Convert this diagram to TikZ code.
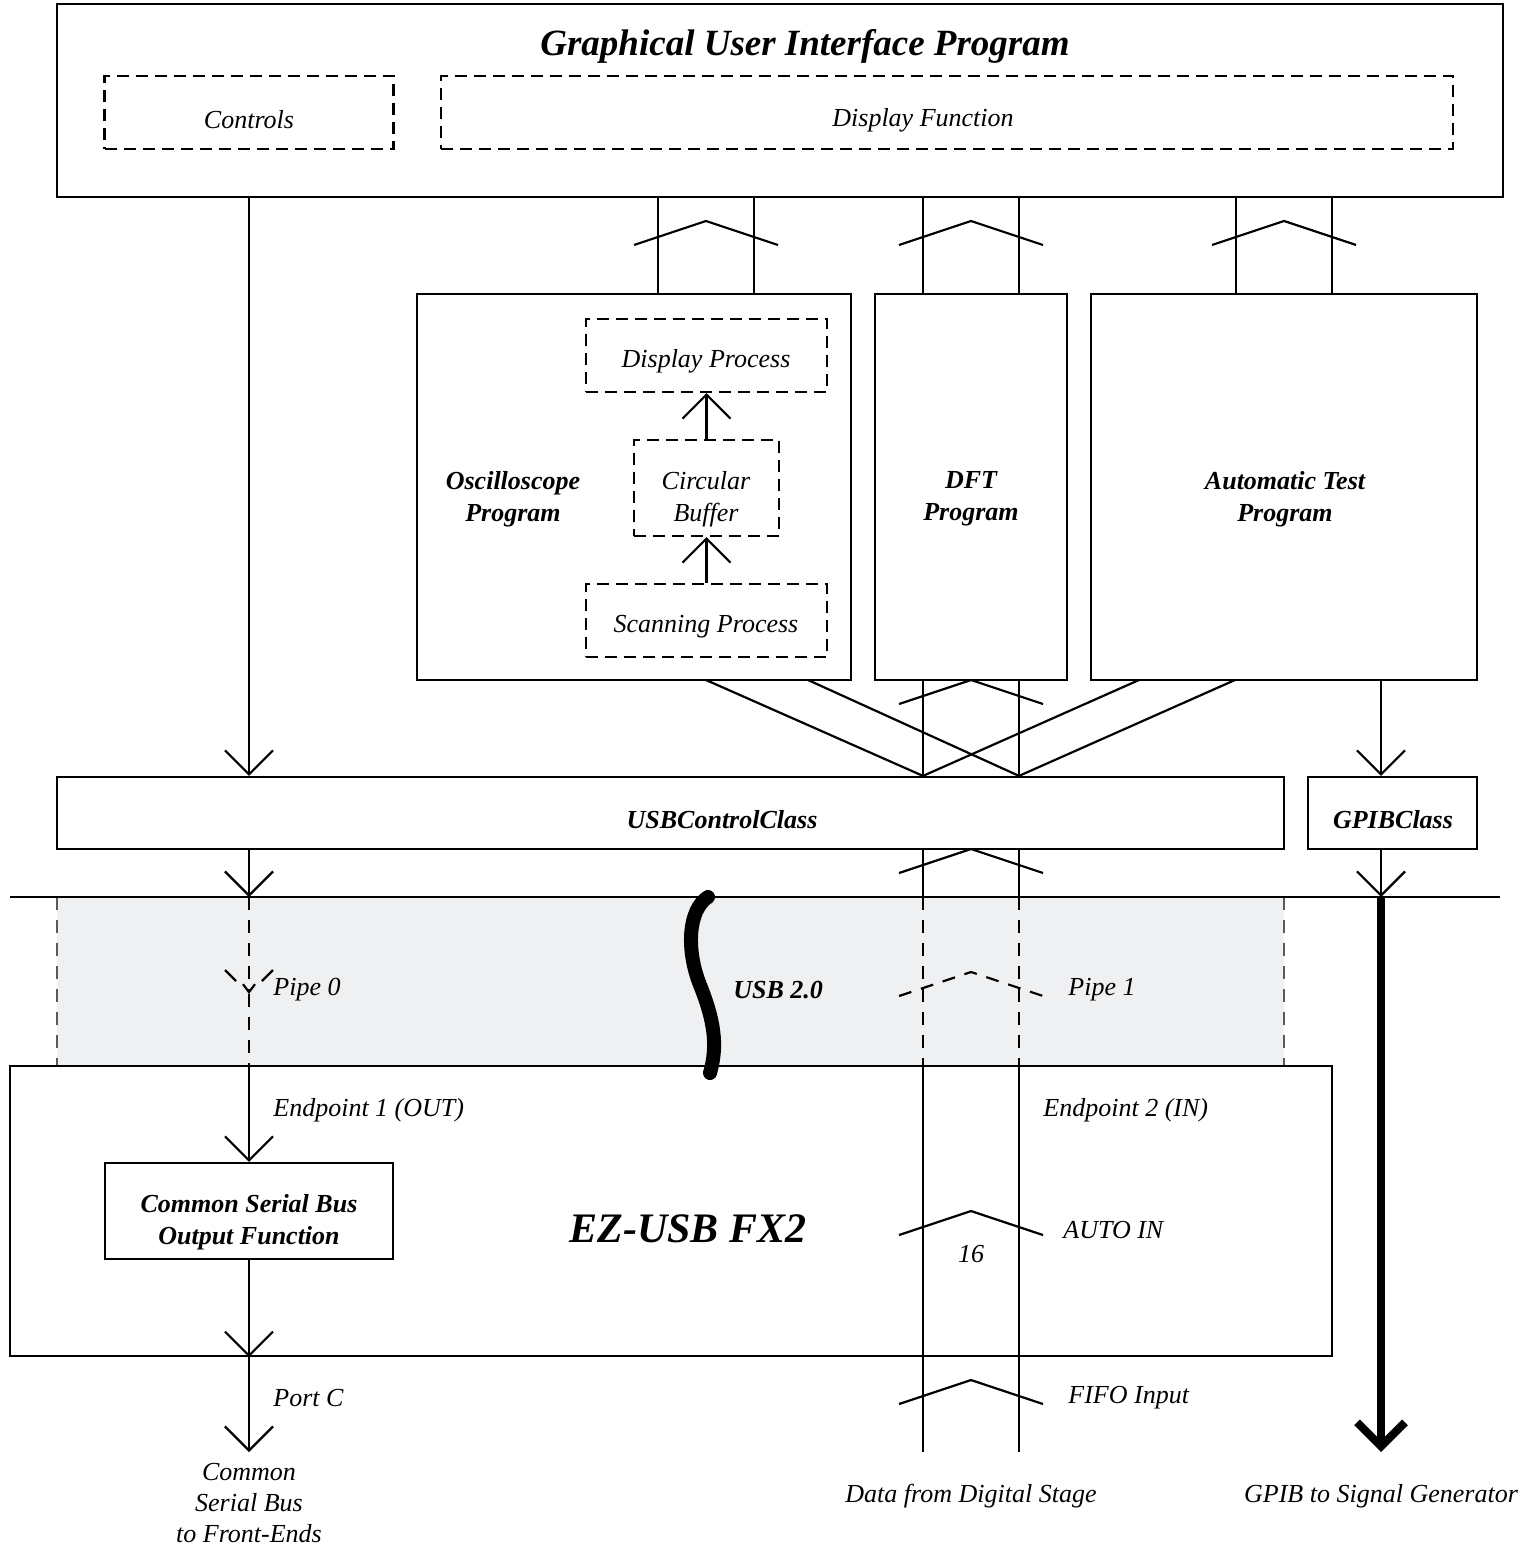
\documentclass[tikz,border=0pt]{standalone}
\usepackage{fontspec}
\setmainfont{Liberation Serif}
\usetikzlibrary{arrows.meta}
\definecolor{bandgray}{RGB}{239,240,242}
\newcommand{\buschevron}[3][]{%
  \draw[wire,#1] (#2-72,#3+24) -- (#2,#3) -- (#2+72,#3+24);}
\tikzset{
  wire/.style={line width=1.1pt},
  box/.style={draw, line width=1.1pt, inner sep=0pt},
  dbox/.style={box, dash pattern=on 6pt off 3.5pt},
  sz/.style 2 args={minimum width=#1*0.5pt, minimum height=#2*0.5pt},
  lbl/.style={font=\fontsize{13}{16}\selectfont\itshape, align=center, inner sep=0pt, yshift=-1.5pt},
  blbl/.style={lbl, font=\fontsize{13}{16}\selectfont\bfseries\itshape},
  pipedash/.style={dash pattern=on 6.5pt off 5pt},
  vee/.style={-{Straight Barb[length=12pt,width=24pt]}},
}
\begin{document}
\begin{tikzpicture}[x=0.5pt,y=-0.5pt]
\useasboundingbox (0,0) rectangle (1530,1546);

% shaded USB band
\fill[bandgray] (57,897) rectangle (1284,1066);
\draw[line width=0.6pt, gray!70!black, pipedash] (57,897) -- (57,1066);
\draw[line width=0.6pt, gray!70!black, pipedash] (1284,897) -- (1284,1066);

% boxes
\node[box, sz={1446}{193}] (gui) at (780,100.5) {};
\node[blbl, font=\fontsize{18.5}{22}\selectfont\bfseries\itshape] (guititle) at (805,43) {Graphical User Interface Program};
\node[dbox, sz={289}{73}] (ctrl) at (249,112.5) {};
\node[lbl] (ctrllbl) at (249,117) {Controls};
\node[dbox, sz={1012}{73}] (dfun) at (947,112.5) {};
\node[lbl] (dfunlbl) at (923,117) {Display Function};

\node[box, sz={434}{386}] (osc) at (634,487) {};
\node[blbl] (osclbl) at (513,496) {Oscilloscope\\Program};
\node[dbox, sz={241}{73}] (dproc) at (706.5,355.5) {};
\node[lbl] (dproclbl) at (706,358) {Display Process};
\node[dbox, sz={145}{96}] (cbuf) at (706.5,488) {};
\node[lbl] (cbuflbl) at (706,496) {Circular\\Buffer};
\node[dbox, sz={241}{73}] (sproc) at (706.5,620.5) {};
\node[lbl] (sproclbl) at (706,624) {Scanning Process};
\node[box, sz={192}{386}] (dft) at (971,487) {};
\node[blbl] (dftlbl) at (971,496) {DFT\\Program};
\node[box, sz={386}{386}] (auto) at (1284,487) {};
\node[blbl] (autolbl) at (1285,496) {Automatic Test\\Program};

\node[box, sz={1227}{72}] (usbc) at (670.5,813) {};
\node[blbl] (usbclbl) at (722,817) {USBControlClass};
\node[box, sz={169}{72}] (gpib) at (1392.5,813) {};
\node[blbl] (gpiblbl) at (1393,817) {GPIBClass};

\node[box, sz={1322}{290}] (ezusb) at (671,1211) {};
\node[blbl, font=\fontsize{21}{25}\selectfont\bfseries\itshape] (ezlbl) at (688,1226) {EZ-USB FX2};
\node[box, sz={288}{96}] (csb) at (249,1211) {};
\node[blbl] (csblbl) at (249,1219) {Common Serial Bus\\Output Function};

% bus lines
\coordinate (oscA) at (658,0);
\coordinate (oscB) at (754,0);
\coordinate (dftA) at (923,0);
\coordinate (dftB) at (1019,0);
\coordinate (autA) at (1236,0);
\coordinate (autB) at (1332,0);
\coordinate (gpx) at (1381,0);
\coordinate (sepL) at (10,897);
\coordinate (sepR) at (1500,897);
\coordinate (pipe0tip) at (249,994);
\coordinate (dataA) at (923,1452);
\coordinate (dataB) at (1019,1452);
\coordinate (gpend) at (1381,1452);
\coordinate (csbend) at (249,1452);

\foreach \b in {osc,aut}{
  \draw[wire] (\b A |- gui.south) -- (\b A |- auto.north);
  \draw[wire] (\b B |- gui.south) -- (\b B |- auto.north);
}
\draw[wire] (dftA |- gui.south) -- (dftA |- dft.north);
\draw[wire] (dftB |- gui.south) -- (dftB |- dft.north);
\buschevron{706}{221}
\buschevron{971}{221}
\buschevron{1284}{221}

% program outputs to USBControlClass
\coordinate (oscL) at (706,680);
\coordinate (oscR) at (808,680);
\coordinate (autL) at (1139,680);
\coordinate (autR) at (1235,680);
\draw[wire] (oscL) -- (dftA |- usbc.north);
\draw[wire] (oscR) -- (dftB |- usbc.north);
\draw[wire] (autL) -- (dftA |- usbc.north);
\draw[wire] (autR) -- (dftB |- usbc.north);
\draw[wire] (dftA |- dft.south) -- (dftA |- usbc.north);
\draw[wire] (dftB |- dft.south) -- (dftB |- usbc.north);
\buschevron{971}{680}

% oscilloscope internals
\draw[wire, vee] (cbuf.north) -- (dproc.south);
\draw[wire, vee] (sproc.north) -- (cbuf.south);

% control paths
\draw[wire, vee] (ctrl.center |- gui.south) -- (ctrl.center |- usbc.north);
\draw[wire, vee] (gpx |- auto.south) -- (gpx |- gpib.north);
\draw[wire, vee] (ctrl.center |- usbc.south) -- (ctrl.center |- sepL);
\draw[wire, vee] (gpx |- gpib.south) -- (gpx |- sepL);

% separator
\draw[wire] (sepL) -- (sepR);

% pipe 0
\draw[wire, pipedash, -{Straight Barb[length=4pt,width=6pt]}] (ctrl.center |- sepL) -- (pipe0tip);
\draw[wire, pipedash] (pipe0tip) -- (ctrl.center |- ezusb.north);
\draw[wire] (225,970) -- (236,981);
\draw[wire] (262,981) -- (273,970);
\draw[wire, vee] (ctrl.center |- ezusb.north) -- (csb.north);
\draw[wire, vee] (csb.south) -- (ctrl.center |- ezusb.south);
\draw[wire, vee] (ctrl.center |- ezusb.south) -- (csbend);

% pipe 1
\draw[wire] (dftA |- usbc.south) -- (dftA |- sepL);
\draw[wire] (dftB |- usbc.south) -- (dftB |- sepL);
\buschevron{971}{849}
\draw[wire, pipedash] (dftA |- sepL) -- (dftA |- ezusb.north);
\draw[wire, pipedash] (dftB |- sepL) -- (dftB |- ezusb.north);
\buschevron[pipedash]{971}{972}
\draw[wire] (dftA |- ezusb.north) -- (dataA);
\draw[wire] (dftB |- ezusb.north) -- (dataB);
\buschevron{971}{1211}
\buschevron{971}{1380}

% GPIB
\draw[line width=4pt, -{Straight Barb[length=12pt,width=24pt]}] (gpx |- sepL) -- (gpend);

% USB cable
\draw[line width=7pt, line cap=round] (708,897) .. controls (688,910) and (686,950) .. (700,985) .. controls (714,1020) and (718,1045) .. (710,1073);

% labels
\node[lbl, anchor=west] (pipe0) at (273,987) {Pipe 0};
\node[lbl, anchor=west] (pipe1) at (1068,987) {Pipe 1};
\node[blbl, anchor=west] (usb) at (733,987) {USB 2.0};
\node[lbl, anchor=west] (ep1) at (273,1107) {Endpoint 1 (OUT)};
\node[lbl, anchor=west] (ep2) at (1043,1107) {Endpoint 2 (IN)};
\node[lbl, anchor=west] (autoin) at (1063,1227) {AUTO IN};
\node[lbl] (width) at (971,1251) {16};
\node[lbl, anchor=west] (fifo) at (1068,1395) {FIFO Input};
\node[lbl, anchor=west] (portc) at (273,1395) {Port C};
\node[lbl, font=\fontsize{13}{15.5}\selectfont\itshape] (front) at (249,1500) {Common\\Serial Bus\\to Front-Ends};
\node[lbl] (data) at (971,1493) {Data from Digital Stage};
\node[lbl] (siggen) at (1381,1493) {GPIB to Signal Generator};
\end{tikzpicture}
\end{document}
